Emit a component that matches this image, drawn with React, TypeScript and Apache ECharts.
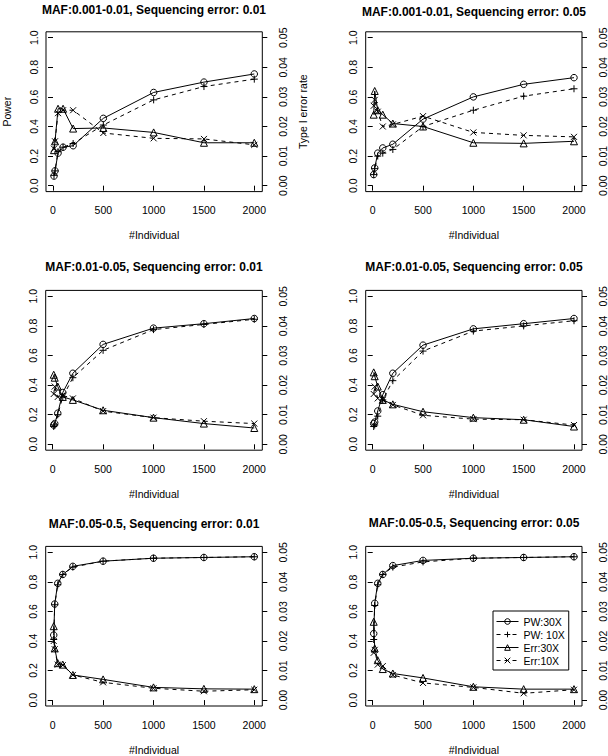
import React, { useEffect, useRef } from "react";
import * as echarts from "echarts";

// ---------- data ----------
const individuals = [10, 20, 50, 100, 200, 500, 1000, 1500, 2000];
const xTicks = [0, 500, 1000, 1500, 2000];
const powerTicks = [0, 0.2, 0.4, 0.6, 0.8, 1.0];
const errorTicks = [0, 0.01, 0.02, 0.03, 0.04, 0.05];

const panelTitles = [
  "MAF:0.001-0.01, Sequencing error: 0.01",
  "MAF:0.001-0.01, Sequencing error: 0.05",
  "MAF:0.01-0.05, Sequencing error: 0.01",
  "MAF:0.01-0.05, Sequencing error: 0.05",
  "MAF:0.05-0.5, Sequencing error: 0.01",
  "MAF:0.05-0.5, Sequencing error: 0.05",
];

const seriesNames = ["PW:30X", "PW: 10X", "Err:30X", "Err:10X"];

// Power, 30X coverage (one row per panel)
const pw30 = [
  [0.065, 0.10, 0.22, 0.26, 0.27, 0.455, 0.63, 0.70, 0.755],
  [0.075, 0.12, 0.22, 0.255, 0.28, 0.45, 0.60, 0.685, 0.73],
  [0.13, 0.14, 0.21, 0.35, 0.48, 0.675, 0.785, 0.815, 0.85],
  [0.14, 0.15, 0.225, 0.335, 0.48, 0.67, 0.78, 0.815, 0.85],
  [0.44, 0.65, 0.79, 0.85, 0.905, 0.94, 0.96, 0.965, 0.97],
  [0.45, 0.655, 0.79, 0.85, 0.91, 0.945, 0.96, 0.965, 0.97],
];
// Power, 10X coverage
const pw10 = [
  [0.07, 0.10, 0.23, 0.26, 0.285, 0.41, 0.58, 0.67, 0.72],
  [0.075, 0.115, 0.20, 0.22, 0.245, 0.40, 0.51, 0.605, 0.655],
  [0.12, 0.13, 0.20, 0.32, 0.45, 0.635, 0.775, 0.81, 0.845],
  [0.12, 0.13, 0.19, 0.30, 0.43, 0.63, 0.765, 0.80, 0.835],
  [0.41, 0.645, 0.78, 0.85, 0.90, 0.94, 0.96, 0.965, 0.97],
  [0.41, 0.64, 0.78, 0.85, 0.90, 0.935, 0.96, 0.965, 0.97],
];
// Type I error rate, 30X coverage
const err30 = [
  [0.012, 0.015, 0.026, 0.026, 0.0193, 0.0195, 0.018, 0.0145, 0.0145],
  [0.024, 0.032, 0.0255, 0.024, 0.021, 0.020, 0.0145, 0.0143, 0.015],
  [0.0235, 0.0225, 0.0195, 0.016, 0.015, 0.0115, 0.009, 0.007, 0.0055],
  [0.0243, 0.023, 0.0195, 0.015, 0.0135, 0.011, 0.009, 0.0083, 0.006],
  [0.025, 0.0175, 0.0125, 0.012, 0.0085, 0.007, 0.0043, 0.0038, 0.0037],
  [0.0265, 0.0175, 0.0135, 0.0105, 0.009, 0.0075, 0.0045, 0.0037, 0.0037],
];
// Type I error rate, 10X coverage
const err10 = [
  [0.0125, 0.015, 0.0245, 0.0255, 0.0255, 0.0178, 0.016, 0.0158, 0.0138],
  [0.027, 0.029, 0.025, 0.020, 0.0207, 0.0235, 0.018, 0.017, 0.0165],
  [0.017, 0.0195, 0.016, 0.0165, 0.0155, 0.0112, 0.009, 0.0078, 0.007],
  [0.017, 0.0195, 0.0155, 0.015, 0.0133, 0.0098, 0.0085, 0.0083, 0.0065],
  [0.020, 0.0172, 0.012, 0.0118, 0.0085, 0.006, 0.004, 0.003, 0.0035],
  [0.016, 0.017, 0.012, 0.0115, 0.0085, 0.0058, 0.0043, 0.0023, 0.0035],
];

// ---------- layout / style ----------
const FONT = "'Liberation Sans', Arial, Helvetica, sans-serif";
const gridLefts = [45.7, 365.7];
const gridTops = [31.8, 290.4, 546.4];
const titleTops = [3, 4.5, 260, 260, 517, 515.5];
const GRID_W = 216.6;
const GRID_H = 159.8;
const TICK_FONT = 10.5;

const PLUS = "path://M5,0L5,10M0,5L10,5";
const CROSS = "path://M0,0L10,10M10,0L0,10";

export default function App() {
  const ref = useRef<HTMLDivElement>(null);

  useEffect(() => {
    document.body.style.margin = "0";
    if (!ref.current) return;
    const chart = echarts.init(ref.current, undefined, { renderer: "svg" });

    const grids: any[] = [];
    const xAxes: any[] = [];
    const yAxes: any[] = [];
    const titles: any[] = [];
    const series: any[] = [];

    const tickStyle = { color: "#000", width: 1 };
    const labelStyle = { color: "#000", fontSize: TICK_FONT, fontFamily: FONT };

    for (let i = 0; i < 6; i++) {
      const col = i % 2;
      const row = Math.floor(i / 2);
      const left = gridLefts[col];
      const top = gridTops[row];
      grids.push({
        left,
        top,
        width: GRID_W,
        height: GRID_H,
        show: true,
        borderColor: "#000",
        borderWidth: 1,
        backgroundColor: "transparent",
        containLabel: false,
      });
      titles.push({
        text: panelTitles[i],
        left: left + GRID_W / 2,
        top: titleTops[i],
        textAlign: "center",
        padding: 0,
        textStyle: {
          fontSize: 12,
          fontWeight: "bold",
          fontFamily: FONT,
          color: "#000",
          lineHeight: 14,
        },
      });
      xAxes.push({
        gridIndex: i,
        type: "value",
        min: -69.6,
        max: 2079.6,
        axisLine: { show: false },
        splitLine: { show: false },
        axisTick: { show: true, length: 5, lineStyle: tickStyle, customValues: xTicks },
        axisLabel: {
          ...labelStyle,
          margin: 13,
          customValues: xTicks,
          formatter: (v: number) => String(v),
        },
        name: "#Individual",
        nameLocation: "middle",
        nameGap: 38,
        nameTextStyle: labelStyle,
      });
      yAxes.push({
        gridIndex: i,
        type: "value",
        position: "left",
        min: -0.04,
        max: 1.04,
        axisLine: { show: false },
        splitLine: { show: false },
        axisTick: { show: true, length: 5, lineStyle: tickStyle, customValues: powerTicks },
        axisLabel: {
          ...labelStyle,
          rotate: 90,
          margin: 7,
          customValues: powerTicks,
          formatter: (v: number) => v.toFixed(1),
        },
        name: i === 0 ? "Power" : "",
        nameLocation: "middle",
        nameGap: 34,
        nameTextStyle: labelStyle,
      });
      yAxes.push({
        gridIndex: i,
        type: "value",
        position: "right",
        min: -0.002,
        max: 0.052,
        axisLine: { show: false },
        splitLine: { show: false },
        axisTick: { show: true, length: 5, lineStyle: tickStyle, customValues: errorTicks },
        axisLabel: {
          ...labelStyle,
          rotate: 90,
          margin: 15,
          customValues: errorTicks,
          formatter: (v: number) => v.toFixed(2),
        },
        name: i === 0 ? "Type I error rate" : "",
        nameLocation: "middle",
        nameGap: 35,
        nameRotate: 90,
        nameTextStyle: labelStyle,
      });

      const defs = [
        { name: seriesNames[0], values: pw30[i], axis: 2 * i, symbol: "circle", size: 6.5, dash: "solid" },
        { name: seriesNames[1], values: pw10[i], axis: 2 * i, symbol: PLUS, size: 7, dash: [4, 4] },
        { name: seriesNames[2], values: err30[i], axis: 2 * i + 1, symbol: "triangle", size: 7, dash: "solid" },
        { name: seriesNames[3], values: err10[i], axis: 2 * i + 1, symbol: CROSS, size: 6, dash: [4, 4] },
      ];
      for (const d of defs) {
        series.push({
          type: "line",
          name: d.name,
          xAxisIndex: i,
          yAxisIndex: d.axis,
          data: individuals.map((x, k) => [x, d.values[k]]),
          symbol: d.symbol,
          symbolSize: d.size,
          showSymbol: true,
          silent: true,
          lineStyle: { color: "#000", width: 1, type: d.dash },
          itemStyle: { color: "transparent", borderColor: "#000", borderWidth: 1 },
          emphasis: { disabled: true },
        });
      }
    }

    chart.setOption({
      animation: false,
      backgroundColor: "#fff",
      title: titles,
      grid: grids,
      xAxis: xAxes,
      yAxis: yAxes,
      series,
      legend: {
        data: seriesNames,
        orient: "vertical",
        left: 493,
        top: 611,
        padding: [4, 4, 3, 3],
        itemGap: 0,
        itemWidth: 22,
        itemHeight: 7,
        selectedMode: false,
        borderColor: "#000",
        borderWidth: 1,
        borderRadius: 0,
        backgroundColor: "#fff",
        lineStyle: { width: 1 },
        itemStyle: { borderWidth: 1 },
        textStyle: { color: "#000", fontSize: TICK_FONT, fontFamily: FONT, lineHeight: 13 },
      },
    });

    return () => chart.dispose();
  }, []);

  return <div ref={ref} style={{ width: 608, height: 756 }} />;
}
